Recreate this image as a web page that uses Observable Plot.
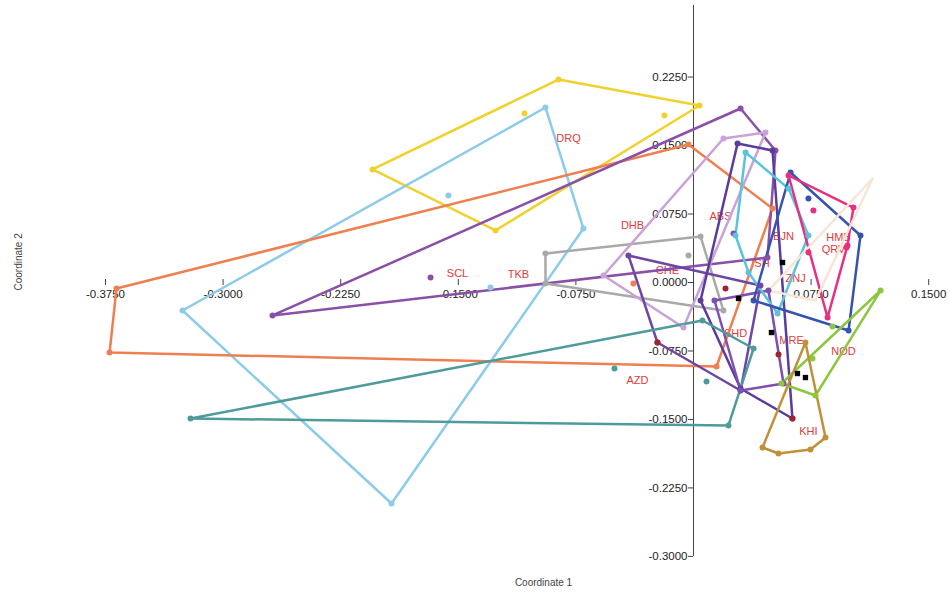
<!DOCTYPE html>
<html>
<head>
<meta charset="utf-8">
<script src="https://cdn.jsdelivr.net/npm/d3@7"></script>
<script src="https://cdn.jsdelivr.net/npm/@observablehq/plot@0.6"></script>
<style>
  body { margin: 0; background: #fff; }
  #chart svg { display: block; }
</style>
</head>
<body>
<div id="chart"></div>
<script>
// ---- tick labels ----
const xTicks = [-0.375, -0.3, -0.225, -0.15, -0.075, 0.075, 0.15];
const yTicks = [0.225, 0.15, 0.075, 0, -0.075, -0.15, -0.225, -0.3];
const yAxisSpan = [-0.3, 0.3034];

// ---- hull vertices (Coordinate 1, Coordinate 2) ----
const hullYellow = [[-0.2047,0.1238],[-0.0861,0.2223],[0.0038,0.1939],[-0.1263,0.0570]];
const hullSky = [[-0.0944,0.1917],[-0.0702,0.0591],[-0.1926,-0.2421],[-0.3259,-0.0307]];
const hullOrange = [[-0.3724,-0.0767],[-0.3680,-0.0066],[-0.0032,0.1511],[0.0504,0.0811],[0.0147,-0.0920]];
const hullPurple = [[-0.2685,-0.0361],[0.0300,0.1906],[0.0523,0.1446],[0.0472,0.0274]];
const hullGrey = [[-0.0944,0.0318],[0.0045,0.0504],[0.0191,-0.0307],[-0.0944,-0.0011]];
const hullLavender = [[-0.0574,0.0077],[0.0191,0.1577],[0.0459,0.1643],[-0.0064,-0.0493]];
const hullViolet = [[-0.0415,0.0296],[0.0427,-0.0033],[0.0300,-0.1183],[-0.0230,-0.0657]];
const hullIndigo = [[0.0281,0.1522],[0.0504,0.1446],[0.0631,-0.1490],[0.0300,-0.1161],[0.0045,-0.0197]];
const hullPlum = [[0.0134,-0.0197],[0.0478,-0.0088],[0.0574,-0.1106],[0.0300,-0.1183]];
const hullCyan = [[0.0332,0.1424],[0.0606,0.1030],[0.0733,0.0515],[0.0536,-0.0340],[0.0351,0.0110],[0.0268,0.0515]];
const hullBlue = [[0.0619,0.1205],[0.1065,0.0515],[0.0989,-0.0526],[0.0383,-0.0197]];
const hullPink = [[0.0606,0.1172],[0.1020,0.0821],[0.0982,0.0405],[0.0855,-0.0383]];
const hullPeach = [[0.1142,0.1139],[0.0478,-0.0088],[0.0778,-0.0197]];
const hullTeal = [[-0.3208,-0.1490],[0.0057,-0.0416],[0.0383,-0.0723],[0.0223,-0.1566]];
const hullGreen = [[0.1193,-0.0088],[0.0561,-0.1106],[0.0778,-0.1238]];
const hullBrown = [[0.0714,-0.0657],[0.0842,-0.1698],[0.0746,-0.1829],[0.0542,-0.1873],[0.0440,-0.1807]];

// ---- interior individuals ----
const ptsYellow = [[-0.1078,0.1851],[-0.0185,0.1829]];
const ptsSky = [[-0.1563,0.0953],[-0.1295,-0.0055]];
const ptsOrange = [[-0.0383,-0.0011]];
const ptsPurple = [[-0.1677,0.0055],[0.0255,0.0537]];
const ptsGrey = [[-0.0032,0.0296]];
const ptsBlue = [[0.0733,0.0920]];
const ptsPink = [[0.0765,0.0789],[0.0976,0.0383],[0.0733,0.0329]];
const ptsTeal = [[-0.0504,-0.0942],[0.0083,-0.1084]];
const ptsGreen = [[0.0886,-0.0482],[0.0759,-0.0832]];
const ptsBlack = [[0.0287,-0.0175],[0.0568,0.0219],[0.0497,-0.0548],[0.0663,-0.0997],[0.0714,-0.1041]];
const ptsMaroon = [[-0.0230,-0.0657],[0.0204,-0.0066],[0.0542,-0.0789],[0.0631,-0.1490]];

// ---- population labels ----
const popNames = ["DRQ","DHB","ABS","BJN","HMB","QRV","SCL","TKB","CHE","ISH","ZNJ","SHD","AZD","MRE","NOD","KHI"];
const popX = [-0.0797,-0.0389,0.0172,0.0574,0.0925,0.0893,-0.1505,-0.1116,-0.0166,0.0427,0.0651,0.0268,-0.0357,0.0625,0.0957,0.0733];
const popY = [0.1577,0.0624,0.0723,0.0504,0.0493,0.0361,0.0099,0.0088,0.0131,0.0208,0.0044,-0.0559,-0.1073,-0.0635,-0.0756,-0.1632];

// ---- groups ----
const groupIds = ["yellow","sky","orange","purple","grey","lavender","violet","indigo","plum","cyan","blue","pink","peach","teal","green","brown","black","maroon"];
const groupColors = ["#f1d12e","#8ccbe9","#ef7f4f","#8a4fa6","#a9a9a9","#c8a2d8","#6e46a6","#5b3b9c","#7d4fb0","#5bc3dd","#3553b0","#e7307f","#f7e6d4","#4f9b9b","#8dc63f","#c0913a","#111111","#a0242c"];
const groupHulls = [hullYellow,hullSky,hullOrange,hullPurple,hullGrey,hullLavender,hullViolet,hullIndigo,hullPlum,hullCyan,hullBlue,hullPink,hullPeach,hullTeal,hullGreen,hullBrown,[],[]];
const groupPts = [ptsYellow,ptsSky,ptsOrange,ptsPurple,ptsGrey,[],[],[],[],[],ptsBlue,ptsPink,[],ptsTeal,ptsGreen,[],ptsBlack,ptsMaroon];

const hullRows = [];
const dotRows = [];
groupIds.forEach((g, i) => {
  groupHulls[i].forEach(([x, y]) => { hullRows.push({g, x, y}); if (g !== "peach") dotRows.push({g, x, y}); });
  groupPts[i].forEach(([x, y]) => dotRows.push({g, x, y}));
});
const labelRows = popNames.map((name, i) => ({name, x: popX[i], y: popY[i]}));

const W = 950, H = 594;
const x0px = 693, y0px = 282, kx = 1568, ky = 913;

const chart = Plot.plot({
  width: W,
  height: H,
  margin: 0,
  x: {domain: [(0 - x0px) / kx, (W - x0px) / kx], axis: null},
  y: {domain: [(y0px - H) / ky, y0px / ky], axis: null},
  color: {domain: groupIds, range: groupColors},
  style: {fontFamily: "'Liberation Sans', Arial, sans-serif", background: "#fff"},
  marks: [
    // axes
    Plot.ruleX([0], {y1: yAxisSpan[0], y2: yAxisSpan[1], stroke: "#444", strokeWidth: 1}),
    Plot.ruleY(yTicks, {y: d => d, x1: 0, x2: -5 / kx, stroke: "#444"}),
    Plot.text(yTicks, {x: 0, y: d => d, text: d => d.toFixed(4), textAnchor: "end", dx: -6, fontSize: 11.5, fill: "#222"}),
    Plot.ruleX(xTicks, {x: d => d, y1: 3 / ky, y2: -3 / ky, stroke: "#444"}),
    Plot.text(xTicks, {x: d => d, y: 0, text: d => d.toFixed(4), dy: 12, fontSize: 11.5, fill: "#222"}),
    // population labels
    Plot.text(labelRows, {x: "x", y: "y", text: "name", fill: "#e23a3a", fontSize: 11}),
    // hulls
    Plot.line(hullRows, {x: "x", y: "y", z: "g", stroke: "g", curve: "linear-closed", strokeWidth: 2.5, strokeLinejoin: "round"}),
    // individuals
    Plot.dot(dotRows.filter(d => d.g !== "black"), {x: "x", y: "y", fill: "g", r: 3}),
    Plot.dot(dotRows.filter(d => d.g === "black"), {x: "x", y: "y", fill: "g", symbol: "square", r: 3}),
    // axis titles
    Plot.text(["Coordinate 1"], {frameAnchor: "bottom", dx: 68, dy: -9, fontSize: 10, fill: "#444"}),
    Plot.text(["Coordinate 2"], {frameAnchor: "left", rotate: -90, dx: 18, dy: -7, fontSize: 10, fill: "#444"})
  ]
});
document.getElementById("chart").append(chart);
</script>
</body>
</html>
